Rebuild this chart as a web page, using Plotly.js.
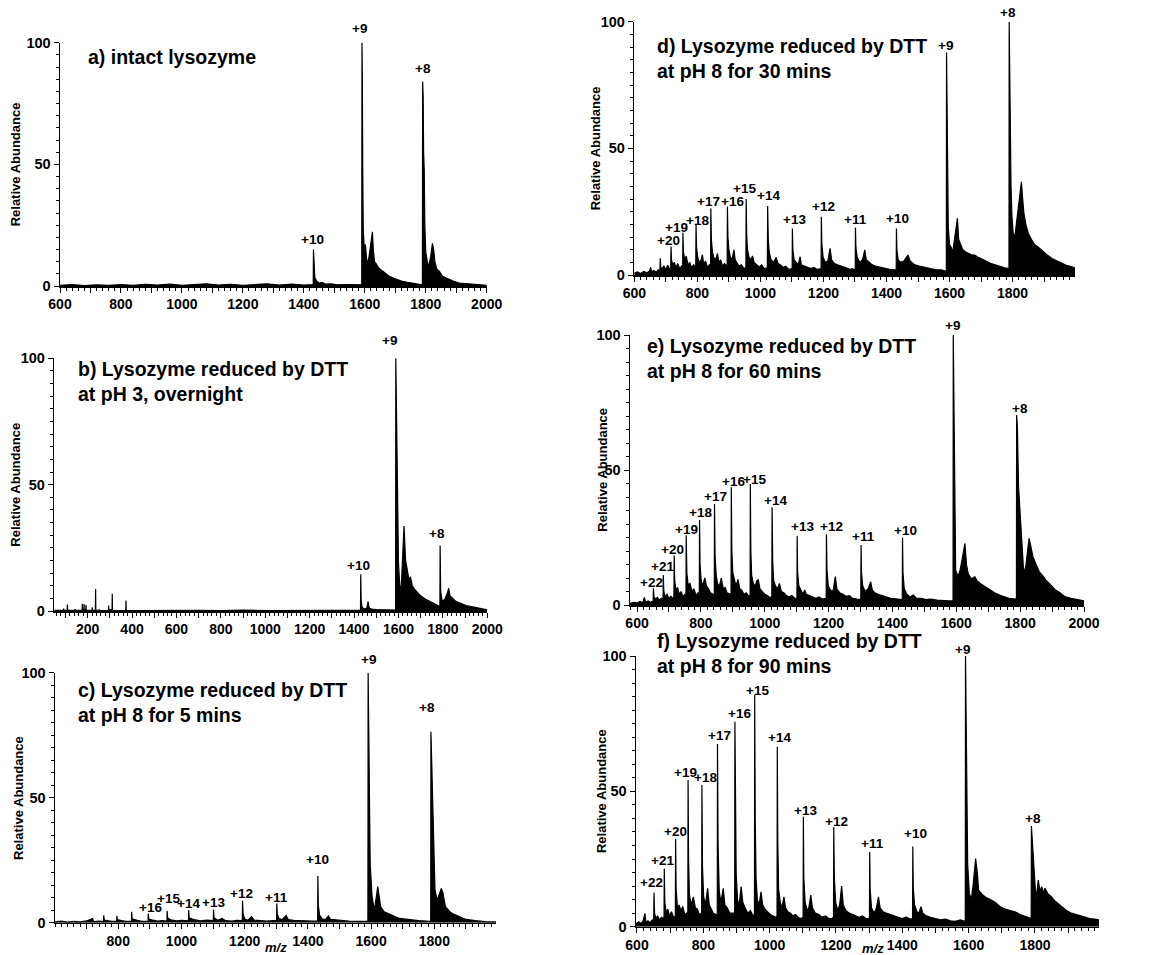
<!DOCTYPE html>
<html><head><meta charset="utf-8">
<script src="https://cdn.plot.ly/plotly-3.0.1.min.js"></script>
<style>html,body{margin:0;padding:0;background:#fff}#chart{width:1159px;height:955px}</style>
</head><body><div id="chart"></div>
<script>
// ---------- spectra: [m/z, relative abundance] ----------
const specA = [
[600,0.3],[640,0.6],[680,0.2],[720,0.5],[760,0.3],[800,0.6],[840,0.3],[880,0.7],[920,0.4],[960,0.8],[1000,0.3],[1040,0.7],[1080,0.9],[1120,0.4],[1160,0.7],[1200,0.3],[1240,0.6],[1280,0.9],[1320,0.4],[1360,0.8],[1400,0.4],[1429,0.5],
[1430.8,0.6],[1431.6,15],[1433,7],[1436,3.5],[1442,2],[1450,1.2],[1460,1.5],[1470,0.8],[1490,0.9],[1510,0.5],[1540,0.6],[1570,0.4],[1589,0.5],
[1590,0.6],[1590.8,100],[1592,85],[1593.5,45],[1595,23],[1598,16],[1602,17],[1606,11],[1610,9],[1615,13],[1620,18],[1625,22.3],[1628,15],[1632,10],[1638,9],[1645,7.5],[1655,6.5],[1665,5.5],[1680,4],[1700,3],[1720,2],[1740,1.5],[1760,1],[1780,0.7],[1788,0.5],
[1789,0.5],[1789.8,84],[1791.5,78],[1793,55],[1795,48],[1797,25],[1800,14],[1805,10],[1810,8],[1816,12],[1822,17.5],[1826,15],[1830,10],[1836,7],[1845,6],[1855,4],[1870,3],[1890,2],[1910,1.2],[1940,0.8],[1970,0.5],[2000,0.3]
];
const specB = [
[50,0.3],[80,0.2],[91,0.3],[92,1],[93,0.3],[108,0.3],[109,2.6],[110,0.3],[143,0.3],[144,0.8],[145,0.3],[175,0.3],[176,2.9],[177,0.5],[183,0.5],[184,2.8],[185,0.5],[192,0.5],[193,2.4],[194,0.3],[220,0.3],[221,1.5],[222,0.3],[235,0.3],[236,8.7],[237,0.3],[251,0.3],[252,0.6],[253,0.2],[294,0.3],[295,2.2],[296,0.5],[310,0.5],[311,6.8],[312,0.3],[372,0.2],[373,4.2],[374,0.3],
[400,0.2],[500,0.3],[600,0.2],[700,0.3],[800,0.2],[900,0.4],[1000,0.2],[1100,0.3],[1200,0.2],[1300,0.3],[1400,0.3],[1429,0.3],[1430,14.5],[1432,4],[1436,1.5],[1445,0.8],[1458,1.2],[1463,3.7],[1468,1.2],[1480,0.8],[1500,0.6],[1540,0.4],[1586,0.4],
[1587,0.4],[1588,100],[1594,45],[1600,19],[1606,10],[1612,8.3],[1618,20],[1625,33.6],[1632,20],[1640,15],[1648,12],[1654,13.6],[1662,10],[1675,8.3],[1700,6],[1727,4.4],[1756,3],[1785,1.8],
[1786.5,1.8],[1787.5,25.9],[1790,8],[1796,4],[1808,4.5],[1820,7],[1826,9],[1832,6],[1845,5],[1860,3.7],[1880,3],[1910,2],[1940,1.5],[1970,1],[2000,0.5]
];
const specC = [
[600,0.3],[620,0.6],[640,0.2],[660,0.5],[680,0.3],[700,0.7],[719,1.7],[722,0.4],[740,0.6],[753.3,0.4],[754,2.9],[756,1],[765,0.8],[780,0.5],[795.2,0.5],[795.8,2.8],[797,1.2],[810,0.8],[825,0.5],[842,0.6],[842.6,4.4],[844,1.5],[860,0.9],[875,0.5],[894.5,0.6],[895.2,3.7],[897,1.5],[910,1],[925,0.6],[940,0.8],[954.1,0.6],[954.8,4.7],[956.5,1.8],[970,1],[985,0.7],[1000,0.9],[1022.2,0.7],[1022.9,5.1],[1024.5,2],[1040,1.2],[1060,0.7],[1080,1],[1100.8,0.8],[1101.5,5.3],[1103,2],[1115,1],[1128,1.7],[1140,0.8],[1160,0.6],[1175,0.9],[1192.5,0.8],[1193.2,8.8],[1195,3.5],[1200,1.5],[1210,1],[1222,2.4],[1230,1],[1250,0.8],[1270,0.6],[1290,0.8],[1300.9,0.8],[1301.6,7.7],[1303,3.5],[1308,1.8],[1318,1.2],[1331,2.9],[1338,1.2],[1355,0.9],[1375,0.7],[1395,0.8],[1415,0.6],[1430.9,0.6],[1431.6,18.7],[1433,7],[1437,3],[1445,1.5],[1455,1.2],[1465,2.7],[1472,1.3],[1490,1],[1510,0.8],[1530,0.6],[1560,0.5],[1589,0.5],
[1589.8,0.5],[1590.5,100],[1593.5,55.7],[1597,23.7],[1603,10.4],[1610,5],[1615,9],[1621,14.4],[1626,10],[1630,6.4],[1640,4.5],[1652,3.7],[1670,2.8],[1690,1.7],[1720,1.2],[1750,0.8],[1788,0.5],
[1788.5,0.5],[1789.2,76.4],[1793,56.4],[1797,35],[1802,13],[1809,9],[1815,11],[1822,13.7],[1827,12],[1835,6.4],[1848,4.5],[1857,3.7],[1870,3],[1885,2],[1900,1.3],[1930,0.8],[1960,0.4],[1995,0.3]
];
const specD = [
[600,0.8],[610,1.2],[620,0.6],[630,1.4],[640,0.9],[648,1.5],[652,3],[655,1.2],[662,1.8],[670,1.1],[676,2],[681,1.5],[682.5,6.6],[684,3],[688,2.5],[694,3.5],[700,2.2],[706,3.8],[712,2.4],[715.5,2.5],[716.5,11.2],[718,6],[722,4],[727,5],[732,3],[738,4.5],[744,2.5],[750,3.5],[753.5,2.8],[754.3,16.7],[756,9],[760,6],[765,7.5],[770,4],[776,5],[782,2.8],[788,4],[795,3],[795.8,19.7],[797.5,11],[801,7],[806,5],[812,6],[816,8],[820,4.5],[826,5.5],[832,3],[838,4],[842,3.2],[842.8,26.3],[844.5,14],[848,9],[852,7],[858,6],[864,8.5],[868,5],[874,6],[880,3.5],[886,4.5],[894.5,3.5],[895.4,27],[897,15],[900,10],[905,7],[910,6],[916,9.9],[920,6],[926,5],[932,3.5],[940,4],[948,2.5],[954,3],[954.9,30],[956.5,16],[959,10],[964,7],[970,6],[975,7.5],[980,5],[988,4],[996,3.2],[1004,4],[1012,2.5],[1022,2.8],[1023,27.2],[1025,14],[1028,9],[1034,6],[1042,5],[1050,7],[1056,4.5],[1064,4],[1072,3],[1080,3.5],[1090,2.2],[1100.8,2.5],[1101.5,18.4],[1103,10],[1107,6],[1114,5],[1120,4],[1126,7.2],[1130,4],[1140,3.5],[1150,3],[1160,2.5],[1170,3],[1180,2.2],[1192.5,2.5],[1193.3,23],[1195,12],[1199,7],[1206,5],[1214,5.5],[1221,10.5],[1226,6],[1235,4.5],[1245,4],[1255,3.5],[1265,3],[1275,2.5],[1285,2.2],[1292,2.5],[1300.8,2],[1301.6,18.7],[1303,11],[1307,7],[1315,5],[1324,6],[1331,9.9],[1336,6],[1345,5],[1355,4],[1365,3.5],[1380,3],[1395,2.5],[1410,2.2],[1425,2],[1430.8,2],[1431.6,18.4],[1433,10],[1437,6],[1445,5],[1455,5.5],[1468,7.9],[1475,5.5],[1490,4],[1505,3.5],[1520,3],[1540,2.5],[1560,2],[1575,2],[1588,1.5],
[1589.8,2],[1590.5,87.8],[1592,60],[1594,50.7],[1596,19],[1600,12],[1605,11],[1610,9],[1616,14],[1621,20],[1625,22.4],[1629,14],[1634,12.5],[1642,10],[1650,9.2],[1660,8.5],[1670,8],[1680,7.9],[1690,7],[1700,6.5],[1715,5.5],[1730,4.6],[1745,4],[1760,3.3],[1775,2.8],[1787,2.6],
[1788.5,2.6],[1789.2,100],[1790.5,78],[1793,58.6],[1795,35],[1798,23],[1802,16.4],[1807,15],[1812,20],[1818,28],[1823,33],[1828,36.8],[1832,30],[1836,24.3],[1842,20],[1850,16.4],[1860,14],[1870,12],[1880,11.2],[1895,9.5],[1910,7.9],[1925,6.5],[1940,5.5],[1955,4.6],[1970,3.8],[1985,3.3],[1998,2.8]
];
const specE = [
[578,0.6],[590,1],[600,0.7],[610,1.3],[618,0.8],[623,2.8],[627,1],[635,1.5],[642,1],[650.5,1.5],[651.3,6.2],[653,3],[658,2.2],[664,2.8],[670,1.8],[676,2.5],[681.5,2],[682.3,11.1],[684,5],[688,3],[694,4],[700,2.5],[706,3.2],[712,2.4],[715.5,3],[716.4,18.3],[718,9],[722,5.5],[727,6.5],[732,4],[738,5],[744,3],[750,4],[753.2,3],[754,25.8],[756,12],[760,7.5],[766,8],[772,5],[778,6],[785,3.5],[791,4.5],[795,3.5],[795.8,31.5],[797.5,15],[801,9],[806,7],[812,10],[818,7],[824,6],[830,4.5],[838,4],[842,3.5],[842.7,37.4],[844.5,18],[848,11],[852,8],[858,7],[864,10],[870,6],[876,6.5],[882,4.5],[890,4],[894.5,4],[895.3,43.6],[897,20],[900,12],[905,9],[910,7],[916,9.5],[922,6],[928,5.5],[935,4],[942,4.5],[950,3.2],[954.1,3.5],[954.9,44.8],[956.5,20],[959,11],[964,8],[970,7],[975,9],[980,9.3],[985,6],[992,5],[1000,4],[1008,3.5],[1016,2.8],[1022.2,3],[1023,36.2],[1025,16],[1028,9],[1034,7],[1040,6],[1046,8],[1052,5],[1060,4.5],[1068,3.5],[1076,3],[1085,3.5],[1094,2.5],[1100.8,2.5],[1101.6,25.6],[1103,12],[1107,7],[1114,5],[1120,4],[1125,5.6],[1130,4],[1140,3.5],[1150,3],[1160,2.5],[1170,3],[1180,2.2],[1192.5,2.5],[1193.3,26.2],[1195,13],[1199,7],[1206,5.5],[1214,5],[1221,10.5],[1226,6],[1235,4.5],[1245,4],[1255,3.2],[1265,3.5],[1275,2.5],[1288,2.2],[1300.8,2],[1301.7,22.2],[1303,12],[1307,7],[1315,5],[1324,6],[1332,8.6],[1337,5.5],[1345,4.5],[1355,4],[1365,3.5],[1380,3],[1395,2.5],[1410,2.2],[1425,2],[1430.8,2],[1431.6,24.9],[1433,12],[1437,6],[1445,4],[1455,3],[1465,3.7],[1475,2.5],[1490,2.5],[1505,2],[1520,2.2],[1540,1.8],[1560,1.5],[1575,1.5],[1589,1.5],
[1589.8,1.5],[1590.5,100],[1593,58.6],[1595.5,31.5],[1598,13],[1605,10.5],[1612,13],[1620,18],[1627,22.8],[1632,15],[1637,11.7],[1645,10],[1652,9.9],[1658,10.5],[1665,9],[1675,8],[1690,6.8],[1705,5.5],[1720,4.5],[1735,3.7],[1750,3],[1765,2.5],[1780,2.3],[1787.5,2.2],
[1788.3,2.2],[1789,70.4],[1791.5,65.4],[1795,43.8],[1800,34],[1805,22.8],[1810,14.2],[1815,11.7],[1820,16],[1824,21],[1828,24.7],[1833,22],[1840,17.9],[1850,15],[1860,12.3],[1870,11],[1880,9.3],[1895,7.5],[1910,5.6],[1925,4.5],[1940,3.1],[1960,2.5],[1980,1.9],[2000,1.5]
];
const specF = [
[597,1],[605,1.8],[612,1.2],[618,2],[624,4.9],[627,1.5],[633,2.2],[640,1.5],[646,2.5],[650.5,2],[651.3,12.6],[653,5],[657,3],[662,4],[668,2.5],[674,3.5],[681.5,3],[682.3,21.4],[684,9],[688,5],[693,6.5],[698,4],[704,5.5],[710,3.5],[715.6,4],[716.4,32.4],[718,14],[722,7],[727,8],[732,6],[738,7.5],[744,4.5],[750,5],[753.3,4.5],[754,54.2],[755.5,25],[758,12],[763,8],[770,11],[776,7],[782,6.5],[788,4.5],[795,5],[795.8,52.3],[797.5,22],[801,11],[806,8],[813,14.2],[818,8],[824,6.5],[830,5],[838,4.5],[842,4.5],[842.7,67.5],[844.5,30],[848,13],[853,9],[860,14.2],[865,8],[872,7],[880,5],[888,5],[894.5,5],[895.3,75.7],[897,40],[899,20],[903,10],[908,8],[914,14.8],[919,9],[926,7],[934,5],[942,6],[950,4],[954.1,4.5],[954.9,85.6],[956.5,40],[959,18],[963,10],[968,8],[974,12.9],[979,8],[986,6.5],[994,5.5],[1002,4.5],[1010,4],[1017,3.5],[1022.2,4],[1023,66.5],[1024.5,32],[1027,14],[1032,9],[1037,7],[1043,11],[1048,7],[1055,5.5],[1063,5],[1070,4],[1078,4.5],[1086,3.5],[1094,3],[1100.8,3.5],[1101.6,40.6],[1103,18],[1107,9],[1113,6],[1118,7],[1124,11.7],[1129,7],[1138,5],[1148,4.5],[1158,3.5],[1168,4],[1178,3],[1187,3],[1192.5,3.5],[1193.3,36.7],[1195,18],[1199,9],[1205,6],[1211,8],[1217,15],[1222,8],[1230,6],[1240,5],[1250,4.5],[1260,4],[1270,3.5],[1280,4],[1290,3],[1300.8,3],[1301.7,27.6],[1303,14],[1307,7],[1315,5],[1322,7],[1328,11],[1333,7],[1342,5.5],[1352,5],[1362,4.5],[1375,4],[1388,3.5],[1400,3],[1412,3.5],[1424,2.8],[1430.8,3],[1431.6,29.6],[1433,14],[1437,8],[1444,5.5],[1450,5],[1456,7.4],[1462,5],[1472,4],[1485,3.5],[1500,3],[1515,2.5],[1530,2.8],[1545,2.2],[1560,2],[1575,2.5],[1589,2],
[1589.8,2],[1590.5,100],[1594,62.6],[1597,23.4],[1602,12.3],[1608,10],[1614,16],[1618,22],[1621,25.2],[1626,20],[1630,13.5],[1640,12],[1650,11],[1665,10],[1680,9],[1695,7.4],[1710,6.5],[1725,6],[1740,5.5],[1755,4.5],[1770,3.7],[1780,3.2],[1788,3],
[1788.5,3],[1789.2,37.2],[1792,31.4],[1798,16],[1803,10],[1810,17.2],[1815,13],[1820,14.8],[1826,12.5],[1830,14.2],[1840,12],[1850,11],[1860,9.5],[1870,8.5],[1880,7.4],[1895,6],[1910,5],[1925,4.5],[1945,3.7],[1965,3],[1980,2.8],[1993,2.5]
];

// ---------- charge-state labels: text, label m/z, label height ----------
const labA = ['+10','+9','+8'];
const labAx = [1428,1582,1792];
const labAy = [19.3,105.9,89.2];
const labB = ['+10','+9','+8'];
const labBx = [1418,1561,1774];
const labBy = [18.2,107,30.5];
const labC = ['+16','+15','+14','+13','+12','+11','+10','+9','+8'];
const labCx = [901,959,1022,1101,1191,1300,1430,1592,1777];
const labCy = [6,9.7,7.5,8.1,11.7,10,25.3,105.3,86.1];
const labD = ['+20','+19','+18','+17','+16','+15','+14','+13','+12','+11','+10','+9','+8'];
const labDx = [710,734,800,835,912,951,1025,1109,1201,1302,1434,1588,1785];
const labDy = [13.6,18.8,21.7,28.9,28.9,34.2,31.3,22.1,27,22.1,22.4,90.8,103.7];
const labE = ['+22','+21','+20','+19','+18','+17','+16','+15','+14','+13','+12','+11','+10','+9','+8'];
const labEx = [644,681,712,754,798,846,903,968,1034,1118,1210,1310,1442,1588,1799];
const labEy = [8.3,14.4,20.7,28.1,34.3,40.1,45.7,46.5,38.6,29,29,25.3,27.5,103.7,72.8];
const labF = ['+22','+21','+20','+19','+18','+17','+16','+15','+14','+13','+12','+11','+10','+9','+8'];
const labFx = [644,677,717,745,807,848,909,964,1031,1109,1202,1309,1441,1581,1793];
const labFy = [16.3,24.4,35.1,56.9,55,70.8,78.6,87.4,70,43.1,39,30.8,34.5,102.5,40];

// ---------- panel titles ----------
const titles = [
  'a) intact lysozyme',
  'b) Lysozyme reduced by DTT<br>at pH 3, overnight',
  'c) Lysozyme reduced by DTT<br>at pH 8 for 5 mins',
  'd) Lysozyme reduced by DTT<br>at pH 8 for 30 mins',
  'e) Lysozyme reduced by DTT<br>at pH 8 for 60 mins',
  'f) Lysozyme reduced by DTT<br>at pH 8 for 90 mins'
];
const yTitle = 'Relative Abundance';
const xTitle = '<i>m/z</i>';

// ---------- tick labels ----------
const ticksA = [600,700,800,900,1000,1100,1200,1300,1400,1500,1600,1700,1800,1900,2000];
const ticksB = [100,200,300,400,500,600,700,800,900,1000,1100,1200,1300,1400,1500,1600,1700,1800,1900,2000];
const ticksC = [700,800,900,1000,1100,1200,1300,1400,1500,1600,1700,1800,1900];
const ticksD = [600,700,800,900,1000,1100,1200,1300,1400,1500,1600,1700,1800,1900];
const yTicks = [0,50,100];

// ---------- layout geometry (pixels in a 1159 x 955 figure) ----------
const W = 1159, H = 955;
const FONT = '"Liberation Sans", Arial, Helvetica, sans-serif';
const BOLD = {family: FONT, color: '#000', weight: 700};
const panels = [
  {spec: specA, lab: labA, lx: labAx, ly: labAy, px: [60, 486.7], py: [42.7, 286], range: [600, 2000], ticks: ticksA, title: [86, 56.7], ytx: 15},
  {spec: specB, lab: labB, lx: labBx, ly: labBy, px: [54.3, 487.3], py: [358.3, 611], range: [50, 2000], ticks: ticksB, title: [76, 381], ytx: 16},
  {spec: specC, lab: labC, lx: labCx, ly: labCy, px: [55, 496], py: [672.7, 922.7], range: [600, 1995], ticks: ticksC, title: [76, 702.5], ytx: 18.3, xt: [275.7, 947]},
  {spec: specD, lab: labD, lx: labDx, ly: labDy, px: [634.3, 1075], py: [21.7, 275], range: [600, 1998], ticks: ticksD, title: [654.5, 58.9], ytx: 595},
  {spec: specE, lab: labE, lx: labEx, ly: labEy, px: [630, 1084], py: [335, 605], range: [578, 2000], ticks: ticksA, title: [645, 358.3], ytx: 602.7},
  {spec: specF, lab: labF, lx: labFx, ly: labFy, px: [636, 1099], py: [656, 926.7], range: [597, 1993], ticks: ticksD, title: [654.5, 653.7], ytx: 601.7, xt: [873, 948]}
];

const data = [];
const layout = {
  width: W, height: H, autosize: false,
  margin: {l: 0, r: 0, t: 0, b: 0, pad: 0},
  paper_bgcolor: '#fff', plot_bgcolor: '#fff',
  showlegend: false,
  font: {family: FONT, color: '#000'},
  annotations: []
};

panels.forEach((p, i) => {
  const n = i + 1;
  const xk = 'x' + (n === 1 ? '' : n), yk = 'y' + (n === 1 ? '' : n);
  const xa = 'xaxis' + (n === 1 ? '' : n), ya = 'yaxis' + (n === 1 ? '' : n);
  data.push({
    type: 'scatter', mode: 'lines', xaxis: xk, yaxis: yk,
    x: p.spec.map(d => d[0]), y: p.spec.map(d => d[1]),
    line: {color: '#000', width: 1.2}, fill: 'tozeroy', fillcolor: '#000',
    hoverinfo: 'skip', showlegend: false
  });
  layout[xa] = {
    domain: [p.px[0] / W, p.px[1] / W], range: p.range, anchor: yk,
    tickmode: 'array', tickvals: p.ticks, ticktext: p.ticks.map(v => v % 200 === 0 ? '<b>' + v + '</b>' : ''),
    ticks: 'outside', ticklen: 5, tickwidth: 1, tickcolor: '#000',
    showline: true, linecolor: '#000', linewidth: 1.5, showgrid: false, zeroline: false,
    tickfont: Object.assign({size: 14}, BOLD),
    minor: {tickmode: 'linear', tick0: 0, dtick: 20, ticks: 'outside', ticklen: 3, tickwidth: 1, tickcolor: '#000', showgrid: false},
    fixedrange: true
  };
  layout[ya] = {
    domain: [1 - p.py[1] / H, 1 - p.py[0] / H], range: [0, 100], anchor: xk,
    tickmode: 'array', tickvals: yTicks, ticktext: yTicks.map(v => '<b>' + v + '</b>'),
    ticks: 'outside', ticklen: 5, tickwidth: 1, tickcolor: '#000',
    showline: true, linecolor: '#000', linewidth: 1.5, showgrid: false, zeroline: false,
    tickfont: Object.assign({size: 14.5}, BOLD),
    minor: {tickmode: 'linear', tick0: 0, dtick: 5, ticks: 'outside', ticklen: 3, tickwidth: 1, tickcolor: '#000', showgrid: false},
    fixedrange: true
  };
  // charge state labels (height in % of the 0-100 axis, placed in axis-domain units so labels above 100 still show)
  p.lab.forEach((t, k) => {
    layout.annotations.push({
      xref: xk, yref: yk + ' domain', x: p.lx[k], y: p.ly[k] / 100, text: '<b>' + t + '</b>', showarrow: false,
      xanchor: 'center', yanchor: 'middle',
      font: Object.assign({size: 13.5}, BOLD)
    });
  });
  // panel title
  layout.annotations.push({
    xref: 'paper', yref: 'paper', x: p.title[0] / W, y: 1 - p.title[1] / H,
    xanchor: 'left', yanchor: 'middle', align: 'left', text: '<b>' + titles[i].replace('<br>', '</b><br><b>') + '</b>', showarrow: false,
    font: Object.assign({size: 19.5}, BOLD)
  });
  // y axis title
  layout.annotations.push({
    xref: 'paper', yref: 'paper', x: p.ytx / W, y: 1 - (p.py[0] + p.py[1]) / 2 / H,
    xanchor: 'center', yanchor: 'middle', textangle: -90, text: '<b>' + yTitle + '</b>', showarrow: false,
    font: Object.assign({size: 13}, BOLD)
  });
  if (p.xt) {
    layout.annotations.push({
      xref: 'paper', yref: 'paper', x: p.xt[0] / W, y: 1 - p.xt[1] / H,
      xanchor: 'center', yanchor: 'middle', text: '<b>' + xTitle + '</b>', showarrow: false,
      font: Object.assign({size: 13}, BOLD)
    });
  }
});

Plotly.newPlot('chart', data, layout, {staticPlot: true, displayModeBar: false});
</script></body></html>
